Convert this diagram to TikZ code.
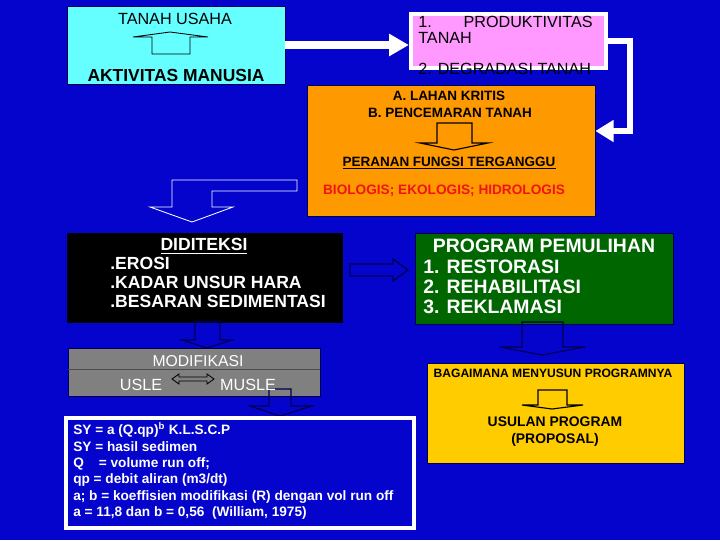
\documentclass[tikz,border=0pt]{standalone}
\usepackage{fontspec}
\setmainfont{Liberation Sans}
\usetikzlibrary{arrows.meta,fit,calc}

\definecolor{bgblue}{RGB}{4,4,204}
\definecolor{skybox}{RGB}{102,255,255}
\definecolor{pinkbox}{RGB}{255,153,255}
\definecolor{orangebox}{RGB}{255,153,0}
\definecolor{greenbox}{RGB}{0,102,0}
\definecolor{yellowbox}{RGB}{255,204,0}
\definecolor{graybox}{RGB}{128,128,128}
\definecolor{navyline}{RGB}{0,0,80}
\definecolor{redtext}{RGB}{240,20,20}

\tikzset{
  box/.style={draw=navyline, line width=0.5pt, inner sep=0pt},
  wline/.style={white, line width=5pt, line join=miter},
  blockarrow/.style={line width=0.6pt, line join=miter},
  reg/.style={font=\fontsize{#1}{11.3}\selectfont, inner sep=0pt},
  bold/.style={font=\fontsize{#1}{13.5}\selectfont\bfseries, inner sep=0pt}
}

\begin{document}
\begin{tikzpicture}[x=0.025cm, y=-0.025cm]
  \fill[bgblue] (0,0) rectangle (720,540);

  % boxes
  \node[box, fill=skybox, fit={(67,6) (285,84)}] (usaha) {};
  \node[box, draw=white, line width=3pt, fill=pinkbox, fit={(411,14) (606,68)}] (produk) {};
  \node[box, fill=orangebox, fit={(307,85) (595,216)}] (lahan) {};
  \node[box, draw=black, fill=black, fit={(67,233) (342,322)}] (diteksi) {};
  \node[box, fill=greenbox, fit={(415,233) (673,324)}] (pemulihan) {};
  \node[box, fill=yellowbox, fit={(427,363) (684,463)}] (usulan) {};
  \node[box, fill=graybox, fit={(68,348) (320,396)}] (modif) {};
  \draw[black!70] (modif.west |- 0,369) -- (modif.east |- 0,369);

  % white connectors
  \draw[wline, line width=5pt, -{Triangle[length=14pt,width=15pt]}] (usaha.east) -- (usaha.east -| produk.west);
  \coordinate (bend) at (630,131);
  \draw[wline, line width=4pt, -{Triangle[length=13pt,width=15pt]}] (produk.east) -| (bend) -- (bend -| lahan.east);

  % block arrows
  \draw[black, blockarrow] (152,54) -- (152,37) -- (133,37) -- (170,32) -- (208,37) -- (190,37) -- (190,54) -- cycle;
  \draw[white, blockarrow] (297,180) -- (297,191) -- (212,191) -- (212,207) -- (233,207) -- (192,222)
    -- (150,207) -- (172,207) -- (172,180) -- cycle;
  \draw[navyline, blockarrow, line width=0.9pt] (350,264) -- (393,264) -- (393,259) -- (408,270) -- (393,281) -- (393,276) -- (350,276) -- cycle;
  \foreach \c/\xa/\xb/\ya/\yb/\xl/\xr/\xt/\yt in {black/437/472/123/143/420/488/454/150,
      navyline/195/220/321/340/182/232/207/348, navyline/522/563/322/347/500/585/542/355,
      black/538/567/390/405/522/583/552/409, navyline/269/291/389/406/250/312/280/416} {
    \draw[\c, blockarrow, line width=0.8pt] (\xa,\ya) -- (\xb,\ya) -- (\xb,\yb) -- (\xr,\yb) -- (\xt,\yt) -- (\xl,\yb) -- (\xa,\yb) -- cycle;
  }
  \draw[black, blockarrow] (172,379) -- (179,374) -- (179,377) -- (207,377) -- (207,374) -- (214,379)
    -- (207,384) -- (207,381) -- (179,381) -- (179,384) -- cycle;

  \node[box, draw=white, line width=3pt, fit={(66,418) (414,528)}] (rumus) {};

  % texts
  \node[reg=11.5] (usahatxt) at (175,19) {TANAH USAHA};
  \node[bold=12.4] (manusia) at (176,75) {AKTIVITAS MANUSIA};

  \node[reg=11.5, text width=124pt, align=left, anchor=west] (produktxt) at (418,30) {1.\hfill PRODUKTIVITAS\\TANAH};
  \node[reg=11.5, anchor=west] (degradasi) at (418,69) {2. DEGRADASI TANAH};

  \node[bold=9.6] (kritis) at (449,96) {A. LAHAN KRITIS};
  \node[bold=9.6] (cemar) at (450,113) {B. PENCEMARAN TANAH};
  \node[bold=9.6] (peranan) at (449,163) {\underline{PERANAN FUNGSI TERGANGGU}};
  \node[bold=9.7, text=redtext] (biologis) at (444,191) {BIOLOGIS; EKOLOGIS; HIDROLOGIS};

  \node[bold=12.5, text=white] (diteksitxt) at (204,246) {\underline{DIDITEKSI}};
  \node[bold=12.5, text=white, anchor=west] (erosi) at (110,263) {.EROSI};
  \node[bold=12.5, text=white, anchor=west] (hara) at (110,282) {.KADAR UNSUR HARA};
  \node[bold=12.5, text=white, anchor=west] (sedimen) at (110,301) {.BESARAN SEDIMENTASI};

  \node[bold=13.8, text=white] (pemulihantxt) at (544,246) {PROGRAM PEMULIHAN};
  \node[bold=13.8, text=white, anchor=west] (restorasi) at (423,267) {1. RESTORASI};
  \node[bold=13.8, text=white, anchor=west] (rehab) at (423,287) {2. REHABILITASI};
  \node[bold=13.8, text=white, anchor=west] (reklamasi) at (423,307) {3. REKLAMASI};

  \node[bold=8.6] (menyusun) at (553,373) {BAGAIMANA MENYUSUN PROGRAMNYA};
  \node[bold=9.9] (usulantxt) at (555,422) {USULAN PROGRAM};
  \node[bold=9.9] (proposal) at (555,440) {(PROPOSAL)};

  \node[reg=11.2, text=white] (modiftxt) at (198,361) {MODIFIKASI};
  \node[reg=11.5, text=white] (usle) at (141,385) {USLE};
  \node[reg=11.5, text=white] (musle) at (248,385) {MUSLE};

  \node[font=\fontsize{9.7}{11.6}\selectfont\bfseries, text=white, align=left, anchor=west, inner sep=0pt] (rumustxt) at (73,471)
    {SY = a (Q.qp)\textsuperscript{b} K.L.S.C.P\\
     SY = hasil sedimen\\
     Q\hspace{1.1em}= volume run off;\\
     qp = debit aliran (m3/dt)\\
     a; b = koeffisien modifikasi (R) dengan vol run off\\
     a = 11,8 dan b = 0,56\ \ (William, 1975)};
\end{tikzpicture}
\end{document}
